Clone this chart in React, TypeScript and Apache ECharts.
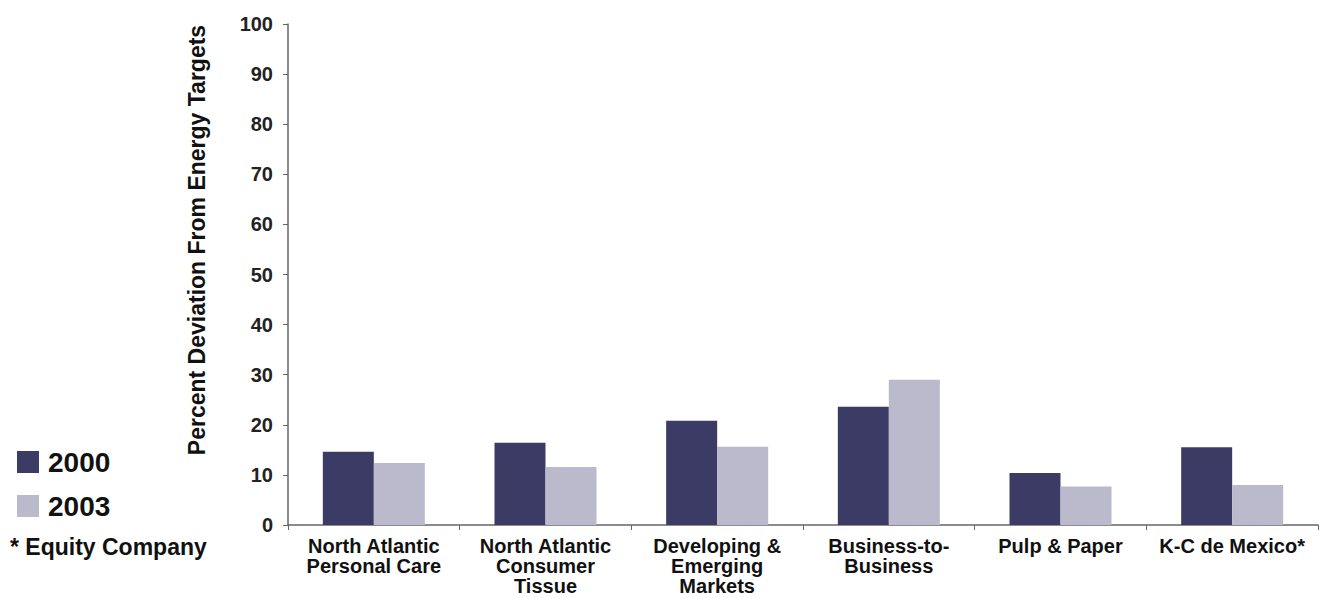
import React, { useEffect, useRef } from "react";
import * as echarts from "echarts";

const categories = [
  "North Atlantic\nPersonal Care",
  "North Atlantic\nConsumer\nTissue",
  "Developing &\nEmerging\nMarkets",
  "Business-to-\nBusiness",
  "Pulp & Paper",
  "K-C de Mexico*",
];
const series2000 = [14.6, 16.4, 20.8, 23.6, 10.4, 15.5];
const series2003 = [12.4, 11.6, 15.6, 29.0, 7.7, 8.0];
const yTicks = { min: 0, max: 100, interval: 10 };

const FONT = "Liberation Sans, Arial, sans-serif";

export default function App() {
  const ref = useRef<HTMLDivElement>(null);
  useEffect(() => {
    const chart = echarts.init(ref.current!, null, { renderer: "svg" });
    chart.setOption({
      animation: false,
      backgroundColor: "#ffffff",
      grid: { left: 288, right: 2, top: 24, bottom: 73, containLabel: false },
      legend: {
        left: 17,
        top: 448,
        padding: 0,
        orient: "vertical",
        itemWidth: 22,
        itemHeight: 22,
        itemGap: 16,
        icon: "rect",
        selectedMode: false,
        textStyle: {
          fontFamily: FONT,
          fontWeight: "bold",
          fontSize: 28,
          lineHeight: 22,
          color: "#111",
          padding: [0, 0, 0, 4],
        },
        data: ["2000", "2003"],
      },
      xAxis: {
        type: "category",
        data: categories,
        axisLine: { lineStyle: { color: "#666", width: 1.5 } },
        axisTick: { show: true, length: 5, lineStyle: { color: "#666" } },
        axisLabel: {
          interval: 0,
          margin: 11,
          fontFamily: FONT,
          fontWeight: "bold",
          fontSize: 20,
          lineHeight: 20,
          color: "#111",
          align: "center",
        },
      },
      yAxis: {
        type: "value",
        min: yTicks.min,
        max: yTicks.max,
        interval: yTicks.interval,
        splitLine: { show: false },
        axisLine: { show: true, lineStyle: { color: "#666", width: 1.5 } },
        axisTick: { show: true, length: 5, lineStyle: { color: "#666" } },
        axisLabel: {
          margin: 15,
          fontFamily: FONT,
          fontWeight: "bold",
          fontSize: 20,
          color: "#222",
        },
      },
      graphic: [
        {
          type: "text",
          x: 197,
          y: 240,
          rotation: Math.PI / 2,
          style: {
            text: "Percent Deviation From Energy Targets",
            fontFamily: FONT,
            fontWeight: "bold",
            fontSize: 23,
            fill: "#111",
            textAlign: "center",
            textVerticalAlign: "middle",
          },
        },
        {
          type: "text",
          x: 10,
          y: 547,
          style: {
            text: "* Equity Company",
            fontFamily: FONT,
            fontWeight: "bold",
            fontSize: 23,
            fill: "#111",
            textAlign: "left",
            textVerticalAlign: "middle",
          },
        },
      ],
      series: [
        {
          name: "2000",
          type: "bar",
          data: series2000,
          barWidth: 51,
          barGap: "0%",
          itemStyle: { color: "#3b3b66" },
        },
        {
          name: "2003",
          type: "bar",
          data: series2003,
          barWidth: 51,
          barGap: "0%",
          itemStyle: { color: "#babacc" },
        },
      ],
    });
    return () => chart.dispose();
  }, []);
  return <div ref={ref} style={{ width: 1320, height: 598, position: "absolute", left: 0, top: 0 }} />;
}
